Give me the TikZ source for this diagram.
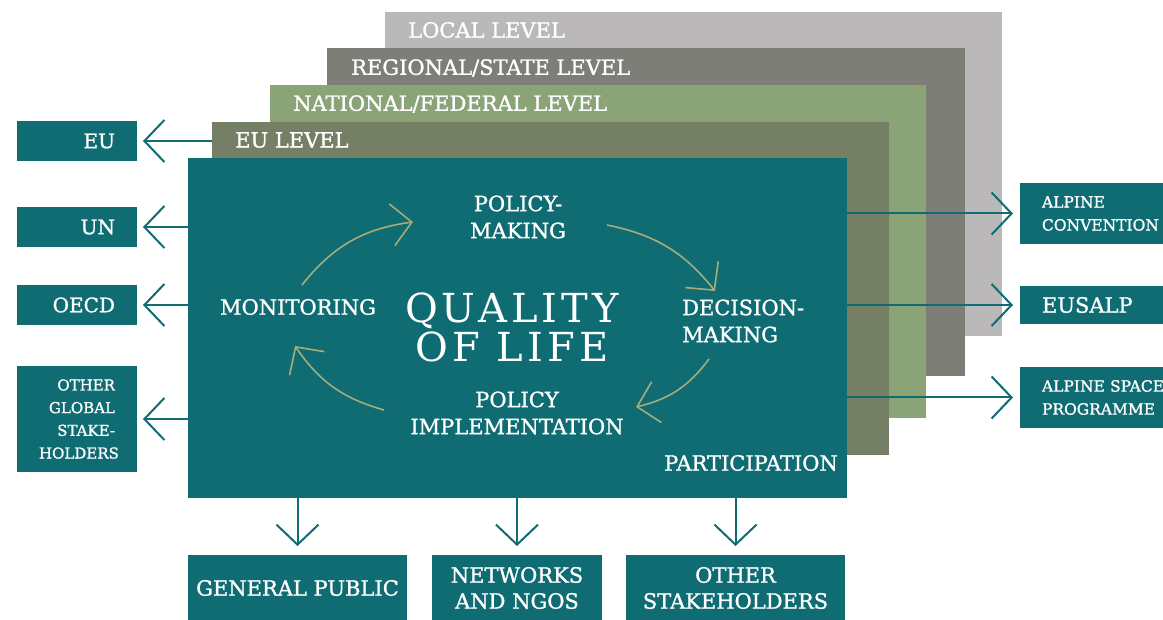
\documentclass[tikz,border=0pt]{standalone}
\usepackage{fontspec}
\setmainfont{DejaVu Serif}[FakeBold=1.2]
\newfontfamily\qolfont{DejaVu Serif}[LetterSpace=10]
\usetikzlibrary{arrows.meta, positioning}
\definecolor{qteal}{RGB}{14,108,114}
\definecolor{eugreen}{RGB}{116,127,102}
\definecolor{natgreen}{RGB}{138,164,120}
\definecolor{reggray}{RGB}{126,126,120}
\definecolor{locgray}{RGB}{186,184,185}
\definecolor{khaki}{RGB}{168,171,122}

\begin{document}
\begin{tikzpicture}[x=1pt, y=-1pt,
    level/.style={anchor=north west, inner sep=0pt, outer sep=0pt},
    leveltext/.style={anchor=west, text=white, inner sep=0pt, font=\fontsize{21}{24}\selectfont},
    tbox/.style={fill=qteal, text=white, inner ysep=0pt, outer sep=0pt},
    maintext/.style={text=white, align=center, inner sep=0pt, font=\fontsize{21}{27}\selectfont},
    conn/.style={draw=qteal, line width=2pt, -{Straight Barb[length=20pt, width=42pt]}},
    cyc/.style={draw=khaki, line width=1.6pt, -{Straight Barb[length=20pt, width=42pt]}}]
  \useasboundingbox (0,0) rectangle (1163,620);
  \fill[white] (0,0) rectangle (1163,620);
  \clip (0,0) rectangle (1163,620);

  % governance levels, back to front
  \node[level, fill=locgray, minimum width=617pt, minimum height=324pt] (local) at (385,12) {};
  \node[level, fill=reggray, minimum width=638pt, minimum height=328pt] (regional) at (327,48) {};
  \node[level, fill=natgreen, minimum width=656pt, minimum height=333pt] (national) at (270,85) {};
  \node[level, fill=eugreen, minimum width=677pt, minimum height=333pt] (eulevel) at (212,122) {};
  \node[leveltext] (locallbl) at (408,30) {LOCAL LEVEL};
  \node[leveltext] (regionallbl) at (351,68) {REGIONAL/STATE LEVEL};
  \node[leveltext] (nationallbl) at (293,104) {NATIONAL/FEDERAL LEVEL};
  \node[leveltext] (eulevellbl) at (235,140) {EU LEVEL};

  % main box
  \node[level, fill=qteal, minimum width=659pt, minimum height=340pt] (main) at (188,158) {};
  \node[maintext] (pol) at (518,217) {POLICY-\\MAKING};
  \node[maintext, align=left, anchor=west] (dec) at (682,321) {DECISION-\\MAKING};
  \node[maintext] (imp) at (517,413) {POLICY\\IMPLEMENTATION};
  \node[maintext] (mon) at (298,307) {MONITORING};
  \node[maintext, font=\qolfont\fontsize{40}{39}\selectfont] (qol) at (512,327) {QUALITY\\OF LIFE};
  \node[maintext, anchor=east] (part) at (838,463) {PARTICIPATION};

  % policy cycle
  \coordinate (c1s) at (302,285); \coordinate (c1e) at (413,222);
  \coordinate (c2s) at (607,225); \coordinate (c2e) at (715,291);
  \coordinate (c3s) at (709,359); \coordinate (c3e) at (636,407);
  \coordinate (c4s) at (384,410); \coordinate (c4e) at (295,346);
  \draw[cyc] (c1s) to[bend left=22] (c1e);
  \draw[cyc] (c2s) to[bend left=20] (c2e);
  \draw[cyc] (c3s) to[bend left=20] (c3e);
  \draw[cyc] (c4s) to[bend left=20] (c4e);

  % global stakeholders
  \tikzset{lbox/.style={tbox, anchor=north west, text width=76pt, inner xsep=22pt, align=right}}
  \node[lbox, minimum height=40pt, font=\fontsize{20}{24}\selectfont] (eu) at (17,121) {EU};
  \node[lbox, minimum height=40pt, font=\fontsize{20}{24}\selectfont] (un) at (17,207) {UN};
  \node[lbox, minimum height=40pt, font=\fontsize{20}{24}\selectfont] (oecd) at (17,285) {OECD};
  \node[lbox, minimum height=106pt, font=\fontsize{15}{22.7}\selectfont] (glob) at (17,366) {OTHER\\GLOBAL\\STAKE-\\HOLDERS};

  % alpine stakeholders
  \tikzset{rbox/.style={tbox, anchor=north west, text width=130pt, inner xsep=22pt, align=left}}
  \node[rbox, minimum height=61pt, font=\fontsize{15.5}{23}\selectfont] (alpconv) at (1020,183) {ALPINE\\CONVENTION};
  \node[rbox, minimum height=38pt, font=\fontsize{21}{24}\selectfont] (eusalp) at (1020,286) {EUSALP};
  \node[rbox, minimum height=61pt, font=\fontsize{15.5}{23}\selectfont] (asp) at (1020,367) {ALPINE SPACE\\PROGRAMME};

  % participation
  \tikzset{bbox/.style={tbox, anchor=north west, minimum height=66pt, align=center, font=\fontsize{21}{26}\selectfont}}
  \node[bbox, minimum width=219pt] (gp) at (188,555) {GENERAL PUBLIC};
  \node[bbox, minimum width=170pt] (ngo) at (432,555) {NETWORKS\\AND NGOS};
  \node[bbox, minimum width=219pt] (oth) at (626,555) {OTHER\\STAKEHOLDERS};

  % connectors
  \draw[conn] (eulevel.west |- eu.east) -- ([xshift=6pt]eu.east);
  \foreach \b in {un, oecd, glob}
    \draw[conn] (main.west |- \b.east) -- ([xshift=6pt]\b.east);
  \foreach \b in {alpconv, eusalp, asp}
    \draw[conn] (main.east |- \b.west) -- ([xshift=-7pt]\b.west);
  \foreach \b in {gp, ngo, oth}
    \draw[conn] (main.south -| \b.north) -- ([yshift=9pt]\b.north);
\end{tikzpicture}
\end{document}
